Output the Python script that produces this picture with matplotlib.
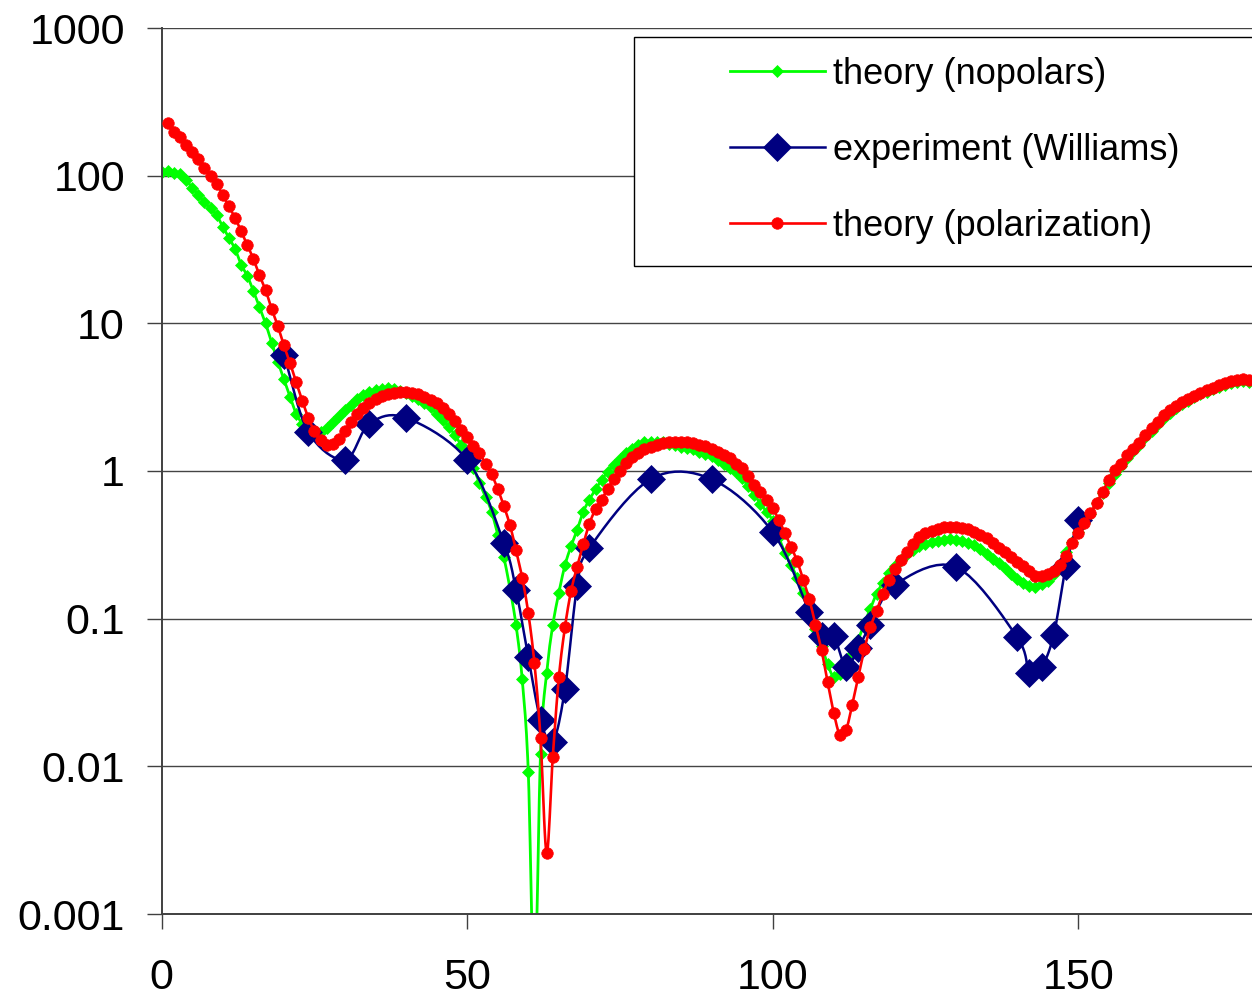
import numpy as np
import matplotlib
matplotlib.use("Agg")
import matplotlib.pyplot as plt
from matplotlib.lines import Line2D
from matplotlib.patches import Rectangle
from matplotlib.ticker import FixedLocator, NullLocator

plt.rcParams['font.family'] = ['Liberation Sans', 'DejaVu Sans']

# theory without polarization, one value per degree from 0 to 178
nopolars_angle = list(range(0, 179))
nopolars = [
    106, 107, 105, 102, 93, 83, 74, 66, 60, 54,
    45, 38, 32, 25, 21, 16.6, 12.9, 10.0, 7.4, 5.5,
    4.2, 3.16, 2.45, 2.09, 1.88, 1.80, 1.84, 1.97, 2.16, 2.37,
    2.60, 2.82, 3.05, 3.27, 3.44, 3.55, 3.61, 3.63, 3.59, 3.47,
    3.35, 3.20, 3.05, 2.88, 2.72, 2.45, 2.21, 2.00, 1.74, 1.51,
    1.32, 1.05, 0.83, 0.67, 0.53, 0.37, 0.26, 0.16, 0.09, 0.039,
    0.0091, 0.0003, 0.0122, 0.043, 0.09, 0.15, 0.23, 0.31, 0.40, 0.53,
    0.64, 0.75, 0.87, 0.99, 1.10, 1.20, 1.32, 1.41, 1.50, 1.56,
    1.58, 1.58, 1.58, 1.53, 1.50, 1.46, 1.43, 1.40, 1.35, 1.30,
    1.26, 1.19, 1.12, 1.05, 0.99, 0.89, 0.79, 0.69, 0.60, 0.53,
    0.46, 0.355, 0.28, 0.23, 0.19, 0.149, 0.112, 0.085, 0.065, 0.049,
    0.040, 0.042, 0.050, 0.058, 0.072, 0.093, 0.117, 0.148, 0.174, 0.204,
    0.229, 0.251, 0.272, 0.292, 0.309, 0.320, 0.331, 0.337, 0.342, 0.344,
    0.343, 0.335, 0.324, 0.313, 0.295, 0.275, 0.254, 0.237, 0.219, 0.202,
    0.186, 0.175, 0.167, 0.165, 0.171, 0.181, 0.200, 0.234, 0.282, 0.331,
    0.389, 0.447, 0.513, 0.603, 0.708, 0.832, 0.955, 1.08, 1.23, 1.36,
    1.51, 1.70, 1.88, 2.09, 2.29, 2.48, 2.69, 2.85, 2.99, 3.16,
    3.31, 3.43, 3.57, 3.70, 3.83, 3.95, 4.01, 4.05, 4.01,
]

# Williams measurements
williams_angle = [20, 24, 30, 34, 40, 50, 56, 58, 60, 62, 64, 66, 68, 70,
                  80, 90, 100, 106, 108, 110, 112, 114, 116, 120, 130,
                  140, 142, 144, 146, 148, 150]
williams = [6.1, 1.84, 1.19, 2.09, 2.29, 1.19, 0.326, 0.156, 0.055, 0.0206,
            0.0146, 0.0334, 0.166, 0.30, 0.88, 0.88, 0.386, 0.111, 0.076,
            0.076, 0.047, 0.063, 0.0906, 0.169, 0.224, 0.075, 0.043, 0.047,
            0.078, 0.227, 0.466]

# theory with polarization, one value per degree from 1 to 178
polar_angle = list(range(1, 179))
polarization = [
    226, 199, 182, 161, 145, 129, 113, 99.5, 88,
    74, 62, 52, 42, 34, 27.3, 21.2, 16.8, 12.5, 9.6,
    7.1, 5.4, 4.0, 3.0, 2.29, 1.86, 1.61, 1.51, 1.53, 1.64,
    1.86, 2.14, 2.45, 2.69, 2.88, 3.05, 3.20, 3.31, 3.39, 3.43,
    3.43, 3.37, 3.30, 3.16, 3.02, 2.88, 2.69, 2.45, 2.19, 1.91,
    1.70, 1.48, 1.32, 1.12, 0.95, 0.755, 0.58, 0.43, 0.29, 0.19,
    0.109, 0.050, 0.0156, 0.0026, 0.0115, 0.040, 0.0875, 0.154, 0.225, 0.32,
    0.44, 0.55, 0.64, 0.76, 0.88, 1.00, 1.14, 1.24, 1.33, 1.40,
    1.46, 1.51, 1.55, 1.58, 1.58, 1.58, 1.57, 1.55, 1.51, 1.47,
    1.41, 1.35, 1.28, 1.22, 1.12, 1.04, 0.92, 0.81, 0.72, 0.64,
    0.558, 0.468, 0.378, 0.308, 0.246, 0.183, 0.135, 0.091, 0.061, 0.037,
    0.023, 0.0163, 0.0176, 0.0259, 0.040, 0.062, 0.088, 0.113, 0.147, 0.183,
    0.216, 0.249, 0.284, 0.32, 0.355, 0.38, 0.394, 0.407, 0.417, 0.42,
    0.42, 0.414, 0.403, 0.386, 0.369, 0.35, 0.324, 0.302, 0.282, 0.263,
    0.243, 0.226, 0.209, 0.195, 0.194, 0.202, 0.211, 0.232, 0.266, 0.324,
    0.38, 0.447, 0.518, 0.611, 0.724, 0.871, 1.01, 1.11, 1.28, 1.40,
    1.55, 1.76, 1.95, 2.16, 2.40, 2.57, 2.75, 2.92, 3.05, 3.24,
    3.39, 3.53, 3.67, 3.80, 3.96, 4.09, 4.15, 4.17, 4.11,
]

y_ticks = [0.001, 0.01, 0.1, 1, 10, 100, 1000]
y_tick_labels = ['0.001', '0.01', '0.1', '1', '10', '100', '1000']
x_ticks = [0, 50, 100, 150]


def smooth(x, y, n=10):
    """Catmull-Rom curve through the points, worked out in (x, log y)."""
    p = np.column_stack([np.asarray(x, float), np.log10(y)])
    p = np.vstack([2 * p[0] - p[1], p, 2 * p[-1] - p[-2]])
    t = np.linspace(0, 1, n, endpoint=False)[:, None]
    parts = []
    for i in range(1, len(p) - 2):
        p0, p1, p2, p3 = p[i - 1], p[i], p[i + 1], p[i + 2]
        seg = 0.5 * (2 * p1 + (p2 - p0) * t
                     + (2 * p0 - 5 * p1 + 4 * p2 - p3) * t ** 2
                     + (3 * p1 - p0 - 3 * p2 + p3) * t ** 3)
        parts.append(seg)
    parts.append(p[-2][None, :])
    c = np.vstack(parts)
    return c[:, 0], 10 ** c[:, 1]


W, H = 1252, 998
fig = plt.figure(figsize=(W / 100, H / 100), dpi=100)
ax = fig.add_axes([161.7 / W, (H - 914) / H, 6.11 * 180 / W, 886 / H])

green, navy, red = '#00FF00', '#000080', '#FF0000'
g_style = dict(color=green, lw=2.0, marker='D', ms=6.4, mfc=green, mec=green, mew=0.5)
b_style = dict(color=navy, lw=1.8, marker='D', ms=14, mfc=navy, mec=navy, mew=0.5)
r_style = dict(color=red, lw=1.9, marker='o', ms=8.3, mfc=red, mec=red, mew=0.5)

for (x, y, st, z) in [(nopolars_angle, nopolars, g_style, 2),
                      (williams_angle, williams, b_style, 3),
                      (polar_angle, polarization, r_style, 4)]:
    ax.plot(*smooth(x, y), color=st['color'], lw=st['lw'], zorder=z)
    ax.plot(x, y, ls='none', marker=st['marker'], ms=st['ms'],
            mfc=st['mfc'], mec=st['mec'], mew=st['mew'], zorder=z + 0.1)

ax.set_yscale('log')
ax.set_ylim(1e-3, 1e3)
ax.set_xlim(0, 180)
ax.yaxis.set_major_locator(FixedLocator(y_ticks))
ax.yaxis.set_minor_locator(NullLocator())
ax.set_yticklabels(y_tick_labels)
ax.set_xticks(x_ticks)
ax.set_xticklabels([str(v) for v in x_ticks])

ax.grid(axis='y', color='#444444', lw=1.0)
ax.set_axisbelow(True)
for side in ('top', 'right'):
    ax.spines[side].set_visible(False)
for side in ('left', 'bottom'):
    ax.spines[side].set_color('#404040')
    ax.spines[side].set_linewidth(1.4)
ax.tick_params(axis='both', direction='out', length=10.5, width=1.0,
               color='#404040', labelsize=31)
ax.tick_params(axis='y', pad=16)
ax.tick_params(axis='x', pad=21)

# legend box runs off the right edge
box = Rectangle((634 / W, 1 - 266 / H), (1320 - 634) / W, (266 - 37) / H,
                transform=fig.transFigure, facecolor='white',
                edgecolor='black', lw=1.0, zorder=5)
fig.add_artist(box)

handles = [Line2D([], [], **g_style), Line2D([], [], **b_style),
           Line2D([], [], **r_style)]
labels = ['theory (nopolars)', 'experiment (Williams)', 'theory (polarization)']
leg = fig.legend(handles, labels, loc='upper left',
                 bbox_to_anchor=(730 / W, 1 - 57 / H), frameon=False,
                 fontsize=26, handlelength=2.63, handletextpad=0.22,
                 labelspacing=1.13, borderpad=0, borderaxespad=0)
leg.set_zorder(6)

fig.savefig('out.png', dpi=100)
